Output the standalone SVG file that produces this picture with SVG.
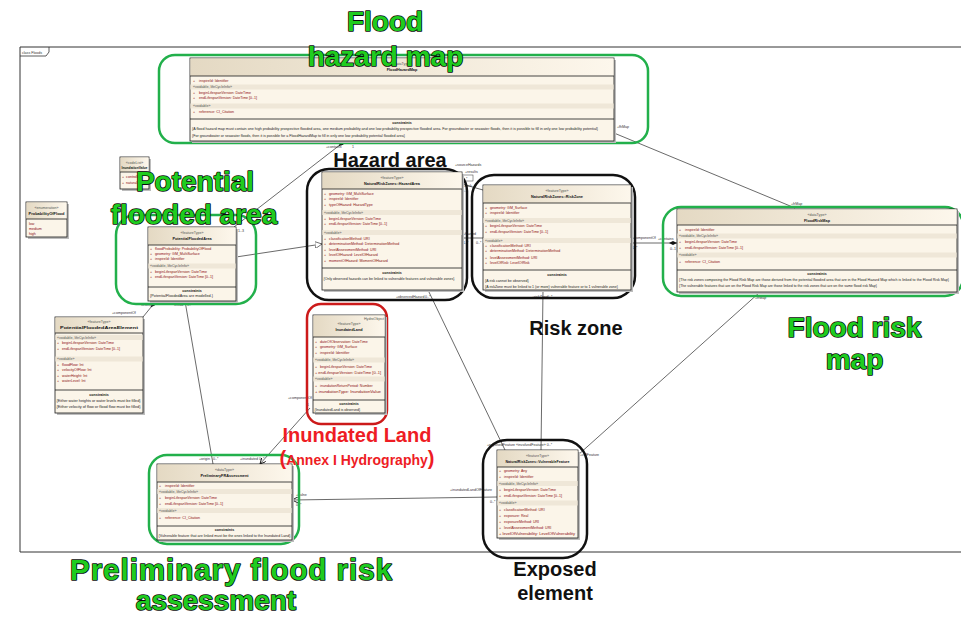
<svg xmlns="http://www.w3.org/2000/svg" width="961" height="617" viewBox="0 0 961 617">
<defs>
<linearGradient id="hg" x1="0" y1="0" x2="1" y2="0"><stop offset="0" stop-color="#e4d9c3"/><stop offset="1" stop-color="#fdf7ec"/></linearGradient>
<marker id="tri" viewBox="0 0 10 10" refX="10" refY="5" markerWidth="7" markerHeight="7" markerUnits="userSpaceOnUse" orient="auto"><path d="M0,0 L10,5 L0,10 z" fill="#fff" stroke="#444" stroke-width="1"/></marker>
<marker id="dia" viewBox="0 0 12 6" refX="12" refY="3" markerWidth="8" markerHeight="4" markerUnits="userSpaceOnUse" orient="auto-start-reverse"><path d="M0,3 L6,0 L12,3 L6,6 z" fill="#111"/></marker>
<marker id="arr" viewBox="0 0 10 10" refX="10" refY="5" markerWidth="6" markerHeight="6" markerUnits="userSpaceOnUse" orient="auto"><path d="M0,0 L10,5 L0,10" fill="none" stroke="#111" stroke-width="1.5"/></marker>
</defs>
<style>
.box{fill:#fbf5e9;stroke:#1a1a1a;stroke-width:0.8}
.sh{fill:#bdbdbd}
.hd{fill:url(#hg)}
.sep{stroke:#1a1a1a;stroke-width:0.8}
.band{fill:#efe7d8}
text{font-family:"Liberation Sans",Arial,sans-serif}
.t{font-size:3.6px;fill:#222}
.st{font-size:3.6px;fill:#555}
.a{font-size:3.6px;fill:#8b1010}
.n{font-size:3.8px;font-weight:bold;fill:#111}
.c{font-size:3.6px;font-weight:bold;fill:#111}
.lbl{font-size:3.6px;fill:#333}
.con{fill:none;stroke:#444;stroke-width:0.8}
.gr{fill:none;stroke:#22b04b;stroke-width:2.5}
.bk{fill:none;stroke:#111;stroke-width:2.5}
.rd{fill:none;stroke:#cc1a1a;stroke-width:2.5}
.big{font-size:28px;font-weight:bold;fill:#1fcc1f;stroke:#0b0b0b;stroke-width:1.6;paint-order:stroke;stroke-linejoin:round}
.blk{font-size:20px;font-weight:bold;fill:#111}
.red{font-weight:bold;fill:#ee1c24}
</style>
<rect x="0" y="0" width="961" height="617" fill="#fff"/>
<g id="frame">
<path d="M961,47 L20,47 L20,552 L961,552" fill="none" stroke="#333" stroke-width="1"/>
<path d="M20,56 L46,56 L49,52 L49,47" fill="none" stroke="#333" stroke-width="0.8"/>
<text class="lbl" x="22" y="53.5">class Floods</text>
</g>
<g id="connectors">
<path class="con" d="M345,141 L234,227" marker-start="url(#dia)"/>
<text class="lbl" x="326" y="147.5">+contains</text><text class="lbl" x="352" y="147.5">1</text>
<text class="lbl" x="238" y="232">1..3</text>
<path class="con" d="M236,257 L322,244" marker-end="url(#tri)"/>
<path class="con" d="M614,133 L795,208"/>
<text class="lbl" x="617" y="128">+fhMap</text>
<text class="lbl" x="791" y="205">+frMap</text>
<path class="con" d="M631,243 L677,243" marker-end="url(#dia)"/>
<text class="lbl" x="632" y="239">+componentOf</text><text class="lbl" x="632" y="248.5">1..*</text>
<text class="lbl" x="658" y="240">+contains</text><text class="lbl" x="670" y="249.5">0..1</text>
<path class="con" d="M462,238 L483,238"/>
<text class="lbl" x="463" y="234.5">+hazard</text><text class="lbl" x="463" y="243.5">1..*</text>
<text class="lbl" x="476" y="243.5">0..*</text>
<path class="con" d="M462,184 L483,190"/>
<text class="lbl" x="455" y="166">+sourceHazards</text>
<text class="lbl" x="465" y="172.5">+results</text>
<rect x="460" y="175" width="13" height="6" fill="#fff" stroke="#333" stroke-width="0.5"/>
<text class="lbl" x="462" y="179.5">1..*</text>
<text class="lbl" x="464" y="187">+risk</text><text class="lbl" x="462" y="192">0..*</text>
<path class="con" d="M428,290 L505,450"/>
<text class="lbl" x="396" y="297.5">+observedHazard</text><text class="lbl" x="425" y="297.5">0..*</text>
<path class="con" d="M543,290 L541,450"/>
<text class="lbl" x="532" y="297.5">+riskZone</text><text class="lbl" x="547" y="297.5">0..*</text>
<path class="con" d="M760,292 L578,455"/>
<text class="lbl" x="755" y="298.5">+frMap</text>
<text class="lbl" x="580" y="456">+vulFeature</text>
<path class="con" d="M143,317 L156,301" marker-end="url(#dia)"/>
<text class="lbl" x="112" y="313.5">+componentOf</text>
<text class="lbl" x="141" y="306">+compo</text>
<path class="con" d="M185,301 L213,464"/>
<text class="lbl" x="174" y="306">+read</text><text class="lbl" x="187" y="306">1..*</text>
<text class="lbl" x="199" y="460">+origin</text><text class="lbl" x="213" y="460">0..*</text>
<path class="con" d="M310,408 L260,464" marker-end="url(#arr)"/>
<text class="lbl" x="288" y="399">+componentOf</text><text class="lbl" x="307" y="406">1</text>
<text class="lbl" x="240" y="460">+inundated</text><text class="lbl" x="259" y="460">0..*</text>
<path class="con" d="M497,497 L292,500" marker-end="url(#arr)"/>
<text class="lbl" x="450" y="491">+inundatedLandOfFeature</text><text class="lbl" x="490" y="503">0..*</text>
<text class="lbl" x="296" y="495.5">+vulne</text><text class="lbl" x="296" y="506">0..*</text>
<text class="lbl" x="487" y="445.5">+exposedFeature «involvedFeature» 0..*</text>
</g>
<g id="FloodHazardMap">
<rect class="gr" x="159" y="55" width="489" height="88" rx="16"/>
<rect class="sh" x="192" y="60" width="424" height="83"/>
<rect class="box" x="190" y="58" width="424" height="83"/>
<rect class="hd" x="190.4" y="58.4" width="423.2" height="17.6"/>
<text class="st" x="402" y="65" text-anchor="middle">«dataType»</text>
<text class="n" x="402" y="71" text-anchor="middle">FloodHazardMap</text>
<line class="sep" x1="190" y1="76" x2="614" y2="76"/>
<text class="a" x="193" y="81.5">+<tspan dx="4">inspireId: Identifier</tspan></text>
<rect class="band" x="190.4" y="84.5" width="423.2" height="5"/>
<text class="st" x="193" y="88.3">«voidable, lifeCycleInfo»</text>
<text class="a" x="193" y="93.5">+<tspan dx="4">beginLifespanVersion: DateTime</tspan></text>
<text class="a" x="193" y="99">+<tspan dx="4">endLifespanVersion: DateTime [0..1]</tspan></text>
<rect class="band" x="190.4" y="103.5" width="423.2" height="5"/>
<text class="st" x="193" y="107.3">«voidable»</text>
<text class="a" x="193" y="113">+<tspan dx="4">reference: CI_Citation</tspan></text>
<line class="sep" x1="190" y1="119" x2="614" y2="119"/>
<text class="c" x="402" y="124" text-anchor="middle">constraints</text>
<text class="t" x="192" y="130" textLength="406" lengthAdjust="spacingAndGlyphs">{A flood hazard map must contain one high probability prospective flooded area, one medium probability and one low probability prospective flooded area. For groundwater or seawater floods, then it is possible to fill in only one low probability potential}</text>
<text class="t" x="192" y="136.5" textLength="213" lengthAdjust="spacingAndGlyphs">{For groundwater or seawater floods, then it is possible for a FloodHazardMap to fill in only one low probability potential flooded area}</text>
</g>
<g id="ProbabilityOfFlood">
<rect class="sh" x="28" y="204" width="41" height="35"/>
<rect class="box" x="26" y="202" width="41" height="35"/>
<rect class="hd" x="26.4" y="202.4" width="40.2" height="16.6"/>
<text class="st" x="46.5" y="208.5" text-anchor="middle">«enumeration»</text>
<text class="n" x="46.5" y="214.5" text-anchor="middle" textLength="36" lengthAdjust="spacingAndGlyphs">ProbabilityOfFlood</text>
<line class="sep" x1="26" y1="219" x2="67" y2="219"/>
<text class="a" x="29" y="225">low</text>
<text class="a" x="29" y="230">medium</text>
<text class="a" x="29" y="235">high</text>
</g>
<g id="InundationValue">
<rect class="sh" x="122" y="159" width="29" height="32"/>
<rect class="box" x="120" y="157" width="29" height="32"/>
<rect class="hd" x="120.4" y="157.4" width="28.2" height="14.6"/>
<text class="st" x="134.5" y="163.5" text-anchor="middle">«codeList»</text>
<text class="n" x="134.5" y="169" text-anchor="middle" textLength="26" lengthAdjust="spacingAndGlyphs">InundationValue</text>
<line class="sep" x1="120" y1="172" x2="149" y2="172"/>
<text class="a" x="122" y="178">+<tspan dx="2">controlled</tspan></text>
<text class="a" x="122" y="184">+<tspan dx="2">natural</tspan></text>
</g>
<g id="PotentialFloodedArea">
<rect class="gr" x="116" y="215" width="140" height="89" rx="20"/>
<rect class="sh" x="150" y="229" width="88" height="74"/>
<rect class="box" x="148" y="227" width="88" height="74"/>
<rect class="hd" x="148.4" y="227.4" width="87.2" height="17.6"/>
<text class="st" x="192" y="234" text-anchor="middle">«featureType»</text>
<text class="n" x="192" y="240" text-anchor="middle">PotentialFloodedArea</text>
<line class="sep" x1="148" y1="245" x2="236" y2="245"/>
<text class="a" x="150" y="250">+<tspan dx="3">floodProbability: ProbabilityOfFlood</tspan></text>
<text class="a" x="150" y="255">+<tspan dx="3">geometry: GM_MultiSurface</tspan></text>
<text class="a" x="150" y="260">+<tspan dx="3">inspireId: Identifier</tspan></text>
<rect class="band" x="148.4" y="263.5" width="87.2" height="5"/>
<text class="st" x="150" y="267.3">«voidable, lifeCycleInfo»</text>
<text class="a" x="150" y="272.5">+<tspan dx="3">beginLifespanVersion: DateTime</tspan></text>
<text class="a" x="150" y="277.5">+<tspan dx="3">endLifespanVersion: DateTime [0..1]</tspan></text>
<line class="sep" x1="148" y1="287" x2="236" y2="287"/>
<text class="c" x="192" y="291.5" text-anchor="middle">constraints</text>
<text class="t" x="150" y="297" textLength="63" lengthAdjust="spacingAndGlyphs">{PotentialFloodedArea are modelled.}</text>
</g>
<g id="HazardArea">
<rect class="bk" x="307" y="169" width="160" height="131" rx="22"/>
<rect class="sh" x="324" y="174" width="140" height="118"/>
<rect class="box" x="322" y="172" width="140" height="118"/>
<rect class="hd" x="322.4" y="172.4" width="139.2" height="16.6"/>
<text class="st" x="392" y="179" text-anchor="middle">«featureType»</text>
<text class="n" x="392" y="185" text-anchor="middle">NaturalRiskZones::HazardArea</text>
<line class="sep" x1="322" y1="189" x2="462" y2="189"/>
<text class="a" x="324" y="194.5">+<tspan dx="3">geometry: GM_MultiSurface</tspan></text>
<text class="a" x="324" y="200">+<tspan dx="3">inspireId: Identifier</tspan></text>
<text class="a" x="324" y="205.5">+<tspan dx="3">typeOfHazard: HazardType</tspan></text>
<rect class="band" x="322.4" y="210" width="139.2" height="5"/>
<text class="st" x="324" y="214">«voidable, lifeCycleInfo»</text>
<text class="a" x="324" y="219.5">+<tspan dx="3">beginLifespanVersion: DateTime</tspan></text>
<text class="a" x="324" y="225">+<tspan dx="3">endLifespanVersion: DateTime [0..1]</tspan></text>
<rect class="band" x="322.4" y="230" width="139.2" height="5"/>
<text class="st" x="324" y="234">«voidable»</text>
<text class="a" x="324" y="239.5">+<tspan dx="3">classificationMethod: URI</tspan></text>
<text class="a" x="324" y="245">+<tspan dx="3">determinationMethod: DeterminationMethod</tspan></text>
<text class="a" x="324" y="250.5">+<tspan dx="3">levelAssessmentMethod: URI</tspan></text>
<text class="a" x="324" y="256">+<tspan dx="3">levelOfHazard: LevelOfHazard</tspan></text>
<text class="a" x="324" y="261.5">+<tspan dx="3">momentOfHazard: MomentOfHazard</tspan></text>
<line class="sep" x1="322" y1="268" x2="462" y2="268"/>
<text class="c" x="392" y="274" text-anchor="middle">constraints</text>
<text class="t" x="323.5" y="280" textLength="131" lengthAdjust="spacingAndGlyphs">{Only observed hazards can be linked to vulnerable features and vulnerable zones}</text>
</g>
<g id="RiskZone">
<rect class="bk" x="472" y="175" width="163" height="123" rx="22"/>
<rect class="sh" x="485" y="187" width="148" height="105"/>
<rect class="box" x="483" y="185" width="148" height="105"/>
<rect class="hd" x="483.4" y="185.4" width="147.2" height="17.6"/>
<text class="st" x="557" y="191.5" text-anchor="middle">«featureType»</text>
<text class="n" x="557" y="197.5" text-anchor="middle">NaturalRiskZones::RiskZone</text>
<line class="sep" x1="483" y1="203" x2="631" y2="203"/>
<text class="a" x="485" y="208.5">+<tspan dx="3">geometry: GM_Surface</tspan></text>
<text class="a" x="485" y="214">+<tspan dx="3">inspireId: Identifier</tspan></text>
<rect class="band" x="483.4" y="218" width="147.2" height="5"/>
<text class="st" x="485" y="221.8">«voidable, lifeCycleInfo»</text>
<text class="a" x="485" y="227">+<tspan dx="3">beginLifespanVersion: DateTime</tspan></text>
<text class="a" x="485" y="232.5">+<tspan dx="3">endLifespanVersion: DateTime [0..1]</tspan></text>
<rect class="band" x="483.4" y="238" width="147.2" height="5"/>
<text class="st" x="485" y="241.8">«voidable»</text>
<text class="a" x="485" y="246.5">+<tspan dx="3">classificationMethod: URI</tspan></text>
<text class="a" x="485" y="252">+<tspan dx="3">determinationMethod: DeterminationMethod</tspan></text>
<text class="a" x="485" y="258.5">+<tspan dx="3">levelAssessmentMethod: URI</tspan></text>
<text class="a" x="485" y="264">+<tspan dx="3">levelOfRisk: LevelOfRisk</tspan></text>
<line class="sep" x1="483" y1="270" x2="631" y2="270"/>
<text class="c" x="557" y="276" text-anchor="middle">constraints</text>
<text class="t" x="485" y="282">{A risk cannot be observed}</text>
<text class="t" x="485" y="287.5" textLength="133" lengthAdjust="spacingAndGlyphs">{A riskZone must be linked to 1 (or more) vulnerable feature or to 1 vulnerable zone}</text>
</g>
<g id="FloodRiskMap">
<rect class="gr" x="663" y="207" width="300" height="89" rx="18"/>
<rect class="sh" x="679" y="211" width="280" height="83"/>
<rect class="box" x="677" y="209" width="280" height="83"/>
<rect class="hd" x="677.4" y="209.4" width="279.2" height="15.6"/>
<text class="st" x="817" y="215.5" text-anchor="middle">«dataType»</text>
<text class="n" x="817" y="221.5" text-anchor="middle">FloodRiskMap</text>
<line class="sep" x1="677" y1="225" x2="957" y2="225"/>
<text class="a" x="679" y="230.5">+<tspan dx="4">inspireId: Identifier</tspan></text>
<rect class="band" x="677.4" y="233.5" width="279.2" height="5"/>
<text class="st" x="679" y="237.3">«voidable, lifeCycleInfo»</text>
<text class="a" x="679" y="243">+<tspan dx="4">beginLifespanVersion: DateTime</tspan></text>
<text class="a" x="679" y="249">+<tspan dx="4">endLifespanVersion: DateTime [0..1]</tspan></text>
<rect class="band" x="677.4" y="252.5" width="279.2" height="5"/>
<text class="st" x="679" y="256.3">«voidable»</text>
<text class="a" x="679" y="263">+<tspan dx="4">reference: CI_Citation</tspan></text>
<line class="sep" x1="677" y1="270" x2="957" y2="270"/>
<text class="c" x="817" y="275" text-anchor="middle">constraints</text>
<text class="t" x="679" y="281" textLength="270" lengthAdjust="spacingAndGlyphs">{The risk zones composing the Flood Risk Map are those derived from the potential flooded area that are in the Flood Hazard Map which is linked to the Flood Risk Map}</text>
<text class="t" x="679" y="286.5" textLength="198" lengthAdjust="spacingAndGlyphs">{The vulnerable features that are on the Flood Risk Map are those linked to the risk zones that are on the same flood risk Map}</text>
</g>
<g id="PotentialFloodedAreaElement">
<rect class="sh" x="57" y="319" width="88" height="96"/>
<rect class="box" x="55" y="317" width="88" height="96"/>
<rect class="hd" x="55.4" y="317.4" width="87.2" height="15.6"/>
<text class="st" x="99" y="323" text-anchor="middle">«featureType»</text>
<text class="n" x="99" y="329" text-anchor="middle" textLength="78" lengthAdjust="spacingAndGlyphs">PotentialFloodedAreaElement</text>
<line class="sep" x1="55" y1="333" x2="143" y2="333"/>
<rect class="band" x="55.4" y="335" width="87.2" height="5"/>
<text class="st" x="57" y="338.8">«voidable, lifeCycleInfo»</text>
<text class="a" x="57" y="344">+<tspan dx="3">beginLifespanVersion: DateTime</tspan></text>
<text class="a" x="57" y="349.5">+<tspan dx="3">endLifespanVersion: DateTime [0..1]</tspan></text>
<rect class="band" x="55.4" y="356.5" width="87.2" height="5"/>
<text class="st" x="57" y="360.3">«voidable»</text>
<text class="a" x="57" y="365.5">+<tspan dx="3">floodFlow: Int</tspan></text>
<text class="a" x="57" y="371">+<tspan dx="3">velocityOfFlow: Int</tspan></text>
<text class="a" x="57" y="376.5">+<tspan dx="3">waterHeight: Int</tspan></text>
<text class="a" x="57" y="382">+<tspan dx="3">waterLevel: Int</tspan></text>
<line class="sep" x1="55" y1="390" x2="143" y2="390"/>
<text class="c" x="99" y="395.5" text-anchor="middle">constraints</text>
<text class="t" x="56.5" y="401.5" textLength="84" lengthAdjust="spacingAndGlyphs">{Either water heights or water levels must be filled}</text>
<text class="t" x="56.5" y="407.5" textLength="84" lengthAdjust="spacingAndGlyphs">{Either velocity of flow or flood flow must be filled}</text>
</g>
<g id="InundatedLand">
<rect class="rd" x="307" y="304" width="80" height="120" rx="14"/>
<rect class="sh" x="315" y="317" width="72" height="98"/>
<rect class="box" x="313" y="315" width="72" height="98"/>
<rect class="hd" x="313.4" y="315.4" width="71.2" height="21.6"/>
<text class="st" x="384" y="319.5" text-anchor="end">HydroObject</text>
<text class="st" x="349" y="325" text-anchor="middle">«featureType»</text>
<text class="n" x="349" y="331" text-anchor="middle">InundatedLand</text>
<line class="sep" x1="313" y1="337" x2="385" y2="337"/>
<text class="a" x="315" y="342.5">+<tspan dx="3">dateOfObservation: DateTime</tspan></text>
<text class="a" x="315" y="348">+<tspan dx="3">geometry: GM_Surface</tspan></text>
<text class="a" x="315" y="353.5">+<tspan dx="3">inspireId: Identifier</tspan></text>
<rect class="band" x="313.4" y="357.5" width="71.2" height="5"/>
<text class="st" x="315" y="361.3">«voidable, lifeCycleInfo»</text>
<text class="a" x="315" y="367.5">+<tspan dx="3">beginLifespanVersion: DateTime</tspan></text>
<text class="a" x="315" y="373.5" textLength="66" lengthAdjust="spacingAndGlyphs">+ endLifespanVersion: DateTime [0..1]</text>
<rect class="band" x="313.4" y="376.5" width="71.2" height="5"/>
<text class="st" x="315" y="380.3">«voidable»</text>
<text class="a" x="315" y="387">+<tspan dx="3">inundationReturnPeriod: Number</tspan></text>
<text class="a" x="315" y="393" textLength="66" lengthAdjust="spacingAndGlyphs">+ inundationType: InundationValue</text>
<line class="sep" x1="313" y1="400" x2="385" y2="400"/>
<text class="c" x="349" y="404.5" text-anchor="middle">constraints</text>
<text class="t" x="314.5" y="410.5">{InundatedLand is observed}</text>
</g>
<g id="PreliminaryFloodRiskAssessment">
<rect class="gr" x="149" y="455" width="150" height="89" rx="18"/>
<rect class="sh" x="159" y="466" width="135" height="76"/>
<rect class="box" x="157" y="464" width="135" height="76"/>
<rect class="hd" x="157.4" y="464.4" width="134.2" height="17.6"/>
<text class="st" x="224.5" y="470.5" text-anchor="middle">«dataType»</text>
<text class="n" x="224.5" y="476.5" text-anchor="middle">PreliminaryFRAssessment</text>
<line class="sep" x1="157" y1="482" x2="292" y2="482"/>
<text class="a" x="159" y="487">+<tspan dx="4">inspireId: Identifier</tspan></text>
<rect class="band" x="157.4" y="489" width="134.2" height="5"/>
<text class="st" x="159" y="492.8">«voidable, lifeCycleInfo»</text>
<text class="a" x="159" y="499">+<tspan dx="4">beginLifespanVersion: DateTime</tspan></text>
<text class="a" x="159" y="505">+<tspan dx="4">endLifespanVersion: DateTime [0..1]</tspan></text>
<rect class="band" x="157.4" y="508" width="134.2" height="5"/>
<text class="st" x="159" y="511.8">«voidable»</text>
<text class="a" x="159" y="518.5">+<tspan dx="4">reference: CI_Citation</tspan></text>
<line class="sep" x1="157" y1="526" x2="292" y2="526"/>
<text class="c" x="224.5" y="530.5" text-anchor="middle">constraints</text>
<text class="t" x="158.5" y="536.5" textLength="132" lengthAdjust="spacingAndGlyphs">{Vulnerable feature that are linked must be the ones linked to the Inundated Land}</text>
</g>
<g id="VulnerableFeature">
<rect class="bk" x="483" y="440" width="104" height="118" rx="24"/>
<rect class="sh" x="499" y="452" width="81" height="88"/>
<rect class="box" x="497" y="450" width="81" height="88"/>
<rect class="hd" x="497.4" y="450.4" width="80.2" height="16.6"/>
<text class="st" x="537.5" y="456.5" text-anchor="middle">«featureType»</text>
<text class="n" x="537.5" y="462.5" text-anchor="middle" textLength="64" lengthAdjust="spacingAndGlyphs">NaturalRiskZones::VulnerableFeature</text>
<line class="sep" x1="497" y1="467" x2="578" y2="467"/>
<text class="a" x="499" y="472">+<tspan dx="3">geometry: Any</tspan></text>
<text class="a" x="499" y="478">+<tspan dx="3">inspireId: Identifier</tspan></text>
<rect class="band" x="497.4" y="481" width="80.2" height="5"/>
<text class="st" x="499" y="484.8">«voidable, lifeCycleInfo»</text>
<text class="a" x="499" y="491">+<tspan dx="3">beginLifespanVersion: DateTime</tspan></text>
<text class="a" x="499" y="497">+<tspan dx="3">endLifespanVersion: DateTime [0..1]</tspan></text>
<rect class="band" x="497.4" y="500.5" width="80.2" height="5"/>
<text class="st" x="499" y="504.3">«voidable»</text>
<text class="a" x="499" y="510.5">+<tspan dx="3">classificationMethod: URI</tspan></text>
<text class="a" x="499" y="516.5">+<tspan dx="3">exposure: Real</tspan></text>
<text class="a" x="499" y="522.5">+<tspan dx="3">exposureMethod: URI</tspan></text>
<text class="a" x="499" y="528.5">+<tspan dx="3">levelAssessmentMethod: URI</tspan></text>
<text class="a" x="499" y="534.5" textLength="76" lengthAdjust="spacingAndGlyphs">+ levelOfVulnerability: LevelOfVulnerability</text>
</g>
<g id="titles">
<text class="big" x="385" y="31" text-anchor="middle">Flood</text>
<text class="big" x="385.5" y="66" text-anchor="middle">hazard map</text>
<text class="big" x="195" y="191" text-anchor="middle">Potential</text>
<text class="big" x="194" y="224" text-anchor="middle">flooded area</text>
<text class="big" x="854.5" y="337" text-anchor="middle">Flood risk</text>
<text class="big" x="854.5" y="369" text-anchor="middle">map</text>
<text class="big" x="70" y="580" style="font-size:29.5px" textLength="322" lengthAdjust="spacing">Preliminary flood risk</text>
<text class="big" x="216" y="610" text-anchor="middle">assessment</text>
<text class="blk" x="390" y="167" text-anchor="middle">Hazard area</text>
<text class="blk" x="576" y="335" text-anchor="middle">Risk zone</text>
<text class="blk" x="555" y="576" text-anchor="middle">Exposed</text>
<text class="blk" x="555" y="600" text-anchor="middle">element</text>
<text class="red" x="357" y="442" text-anchor="middle" style="font-size:20px">Inundated Land</text>
<text class="red" x="357" y="465" text-anchor="middle" style="font-size:14px"><tspan style="font-size:20px">(</tspan>Annex I Hydrography<tspan style="font-size:20px">)</tspan></text>
</g>
</svg>
